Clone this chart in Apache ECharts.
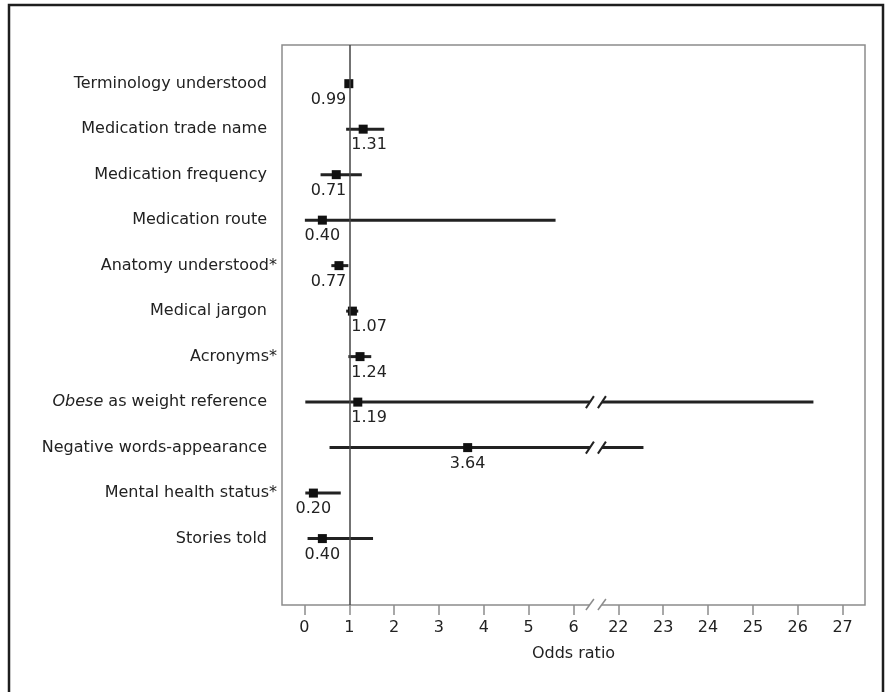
<!DOCTYPE html>
<html>
<head>
<meta charset="utf-8">
<script src="https://cdn.jsdelivr.net/npm/echarts@6/dist/echarts.min.js"></script>
<style>
  html, body { margin: 0; padding: 0; background: #fff; }
  #chart { width: 892px; height: 692px; }
</style>
</head>
<body>
<div id="chart"></div>
<script>
// rows, top to bottom
var categories = [
  'Terminology understood',
  'Medication trade name',
  'Medication frequency',
  'Medication route',
  'Anatomy understood*',
  'Medical jargon',
  'Acronyms*',
  'Obese as weight reference',
  'Negative words-appearance',
  'Mental health status*',
  'Stories told'
];
var oddsRatios = [0.99, 1.31, 0.71, 0.40, 0.77, 1.07, 1.24, 1.19, 3.64, 0.20, 0.40];
var ciLow  = [0.94, 0.93, 0.36, 0.01, 0.60, 0.93, 0.98, 0.02, 0.56, 0.02, 0.07];
var ciHigh = [1.04, 1.78, 1.28, 5.60, 0.98, 1.20, 1.49, 26.35, 22.56, 0.81, 1.53];
var tickLabels = [0, 1, 2, 3, 4, 5, 6, 22, 23, 24, 25, 26, 27];

// broken axis: 6.5 .. 21.5 is cut out
var BREAK = 6.5, CUT = 15;
function t(v) { return v <= BREAK ? v : v - CUT; }

var FONT = 'DejaVu Sans';
var TXT = '#222';
var Y_MIN = -0.85, Y_MAX = 11.46;

var chart = echarts.init(document.getElementById('chart'));

var ciData = categories.map(function (c, i) {
  return [t(ciLow[i]), t(ciHigh[i]), i, (ciLow[i] < BREAK && ciHigh[i] > BREAK) ? 1 : 0];
});
var pointData = oddsRatios.map(function (v, i) { return [t(v), i]; });
var labelData = oddsRatios.map(function (v, i) {
  var near = Math.abs(v - 1) < 0.45;
  var item = { value: [near ? 1 : t(v), i], name: v.toFixed(2) };
  if (near) {
    item.label = v < 1 ? { align: 'right', offset: [-3, 16] } : { align: 'left', offset: [2, 16] };
  }
  return item;
});

function slash(x, y, h) {
  return { type: 'line', shape: { x1: x - 4, y1: y + h, x2: x + 4, y2: y - h },
           style: { stroke: '#222', lineWidth: 2 } };
}

chart.setOption({
  animation: false,
  backgroundColor: '#fff',
  graphic: [{
    type: 'rect', shape: { x: 9, y: 5, width: 874, height: 700 },
    style: { fill: 'none', stroke: '#1e1e1e', lineWidth: 2.5 }, silent: true
  }],
  grid: {
    left: 282, right: 27, top: 45, bottom: 87,
    show: true, borderColor: '#8c8c8c', borderWidth: 1.5
  },
  xAxis: {
    type: 'value', min: -0.5, max: 12.5,
    name: 'Odds ratio', nameLocation: 'middle', nameGap: 41,
    nameTextStyle: { fontFamily: FONT, fontSize: 16, color: TXT },
    axisLine: { show: false, onZero: false },
    splitLine: { show: false },
    axisTick: {
      show: true, length: 10, customValues: tickLabels.map(t),
      lineStyle: { color: '#8c8c8c', width: 1.5 }
    },
    axisLabel: {
      customValues: tickLabels.map(t), margin: 15,
      fontFamily: FONT, fontSize: 16, color: TXT,
      formatter: function (v) { return String(v <= BREAK ? Math.round(v) : Math.round(v + CUT)); }
    }
  },
  yAxis: {
    type: 'value', inverse: true, min: Y_MIN, max: Y_MAX,
    axisLine: { show: false, onZero: false }, axisTick: { show: false }, splitLine: { show: false },
    axisLabel: {
      customValues: categories.map(function (c, i) { return i; }),
      margin: 5, fontFamily: FONT, fontSize: 16, color: TXT,
      formatter: function (v) {
        var s = categories[Math.round(v)] || '';
        var pad = s.charAt(s.length - 1) === '*' ? '' : '{g| }';
        if (s.indexOf('Obese') === 0) s = '{i|Obese}' + s.slice(5);
        return s + pad;
      },
      rich: {
        i: { fontFamily: FONT, fontSize: 16, color: TXT, fontStyle: 'italic' },
        g: { width: 10, fontFamily: FONT, fontSize: 16 }
      }
    }
  },
  series: [
    {
      type: 'custom',
      data: ciData,
      encode: { x: [0, 1], y: 2 },
      z: 2,
      renderItem: function (params, api) {
        var row = api.value(2);
        var lo = api.coord([api.value(0), row]);
        var hi = api.coord([api.value(1), row]);
        var st = { stroke: '#222', lineWidth: 3 };
        if (!api.value(3)) {
          return { type: 'line', shape: { x1: lo[0], y1: lo[1], x2: hi[0], y2: hi[1] }, style: st };
        }
        var b = api.coord([BREAK, row]);
        var g = 6;
        return {
          type: 'group',
          children: [
            { type: 'line', shape: { x1: lo[0], y1: lo[1], x2: b[0] - g, y2: lo[1] }, style: st },
            { type: 'line', shape: { x1: b[0] + g, y1: lo[1], x2: hi[0], y2: hi[1] }, style: st },
            slash(b[0] - g, b[1], 6),
            slash(b[0] + g, b[1], 6)
          ]
        };
      }
    },
    {
      // axis break mark
      type: 'custom',
      data: [[BREAK, Y_MAX]],
      z: 5,
      renderItem: function (params, api) {
        var p = api.coord([api.value(0), api.value(1)]);
        return {
          type: 'group',
          children: [
            { type: 'rect', shape: { x: p[0] - 6, y: p[1] - 2, width: 12, height: 4 },
              style: { fill: '#fff' } },
            { type: 'line', shape: { x1: p[0] - 10, y1: p[1] + 5, x2: p[0] - 2, y2: p[1] - 6 },
              style: { stroke: '#8c8c8c', lineWidth: 1.5 } },
            { type: 'line', shape: { x1: p[0] + 2, y1: p[1] + 5, x2: p[0] + 10, y2: p[1] - 6 },
              style: { stroke: '#8c8c8c', lineWidth: 1.5 } }
          ]
        };
      }
    },
    {
      type: 'scatter',
      data: pointData,
      symbol: 'rect', symbolSize: 9,
      itemStyle: { color: '#111', opacity: 1 },
      z: 4,
      markLine: {
        silent: true, symbol: 'none', label: { show: false },
        lineStyle: { color: '#444', width: 1.5, type: 'solid' },
        data: [{ xAxis: 1 }]
      }
    },
    {
      type: 'scatter',
      data: labelData,
      symbolSize: 0,
      itemStyle: { opacity: 1 },
      z: 4,
      label: {
        show: true, position: 'inside', offset: [0, 16],
        fontFamily: FONT, fontSize: 16, color: TXT, textBorderWidth: 0,
        formatter: function (p) { return p.name; }
      }
    }
  ]
});
</script>
</body>
</html>
